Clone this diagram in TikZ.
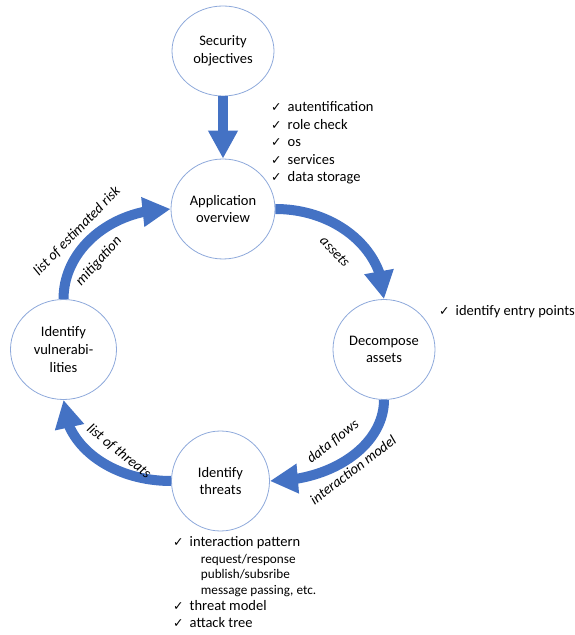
\documentclass[tikz,border=0pt]{standalone}
\usepackage{fontspec}
\setmainfont{Carlito}
\newfontfamily\checkfont{DejaVu Sans}
\usetikzlibrary{arrows.meta,bending,shapes.geometric}
\definecolor{arrowblue}{HTML}{4472C4}
\definecolor{ringblue}{HTML}{8EA9DB}
\newcommand\ckmark{\makebox[16.5pt][l]{\raisebox{0.3pt}{\checkfont\fontsize{12.5}{12.5}\selectfont ✓}}}
\begin{document}
\begin{tikzpicture}[x=1pt,y=1pt,
  stage/.style={draw=ringblue, line width=0.8pt, ellipse, inner sep=0pt, align=center,
    font=\fontsize{14.5}{17.6}\selectfont, fill=white},
  flow/.style={draw=arrowblue, line width=10pt, -{Triangle[width=28pt,length=28pt,flex]}},
  lab/.style={font=\fontsize{14.5}{17}\selectfont\itshape, inner sep=0pt},
  item/.style={anchor=west, inner sep=0pt, font=\fontsize{14.5}{17}\selectfont, text height=10pt, text depth=3pt},
  subitem/.style={anchor=west, inner sep=0pt, font=\fontsize{13.2}{15}\selectfont, text height=9pt, text depth=2.5pt}
]
\useasboundingbox (0,0) rectangle (575,635);

% stages
\node[stage, minimum width=102pt, minimum height=90pt] (sec) at (223,584) {Security\\objectives};
\node[stage, minimum width=104pt, minimum height=100pt] (app) at (223,426) {Application\\overview};
\node[stage, minimum width=102pt, minimum height=100pt] (dec) at (384,285.5) {Decompose\\assets};
\node[stage, minimum width=106pt, minimum height=100pt] (vul) at (63.5,285.5) {Identify\\vulnerabi-\\lities};
\node[stage, minimum width=98pt, minimum height=100pt] (thr) at (220.5,154) {Identify\\threats};

% flows
\draw[flow] (sec.south) -- (app.north);
\draw[flow] (app.east) .. controls +(60,0) and +(0,50) .. (dec.north);
\draw[flow] (dec.south) .. controls +(0,-45) and +(63,0) .. (thr.east);
\draw[flow] (thr.west) .. controls +(-60,0) and +(0,-45) .. (vul.south);
\draw[flow] (vul.north) .. controls +(0,50) and +(-59,0) .. (app.west);

% flow labels
\node[lab, rotate=-46] (lassets) at (335,383.5) {assets};
\node[lab, rotate=46] (lrisk) at (77,404) {list of estimated risk};
\node[lab, rotate=48] (lmit) at (99,374) {mitigation};
\node[lab, rotate=38] (ldata) at (333,193.3) {data flows};
\node[lab, rotate=37] (linter) at (353,165) {interaction model};
\node[lab, rotate=-39] (lthreats) at (119,183.5) {list of threats};

% application overview list
\node[item] (a1) at (271,527) {\ckmark autentification};
\node[item] (a2) at (271,509) {\ckmark role check};
\node[item] (a3) at (271,492) {\ckmark os};
\node[item] (a4) at (271,474) {\ckmark services};
\node[item] (a5) at (271,457) {\ckmark data storage};

% decompose list
\node[item] (d1) at (439,323) {\ckmark identify entry points};

% threats list
\node[item] (t1) at (173,92) {\ckmark interaction pattern};
\node[subitem] (t1a) at (200.7,75) {request/response};
\node[subitem] (t1b) at (200.7,60) {publish/subsribe};
\node[subitem] (t1c) at (200.7,44) {message passing, etc.};
\node[item] (t2) at (173,28) {\ckmark threat model};
\node[item] (t3) at (173,11) {\ckmark attack tree};
\end{tikzpicture}
\end{document}
